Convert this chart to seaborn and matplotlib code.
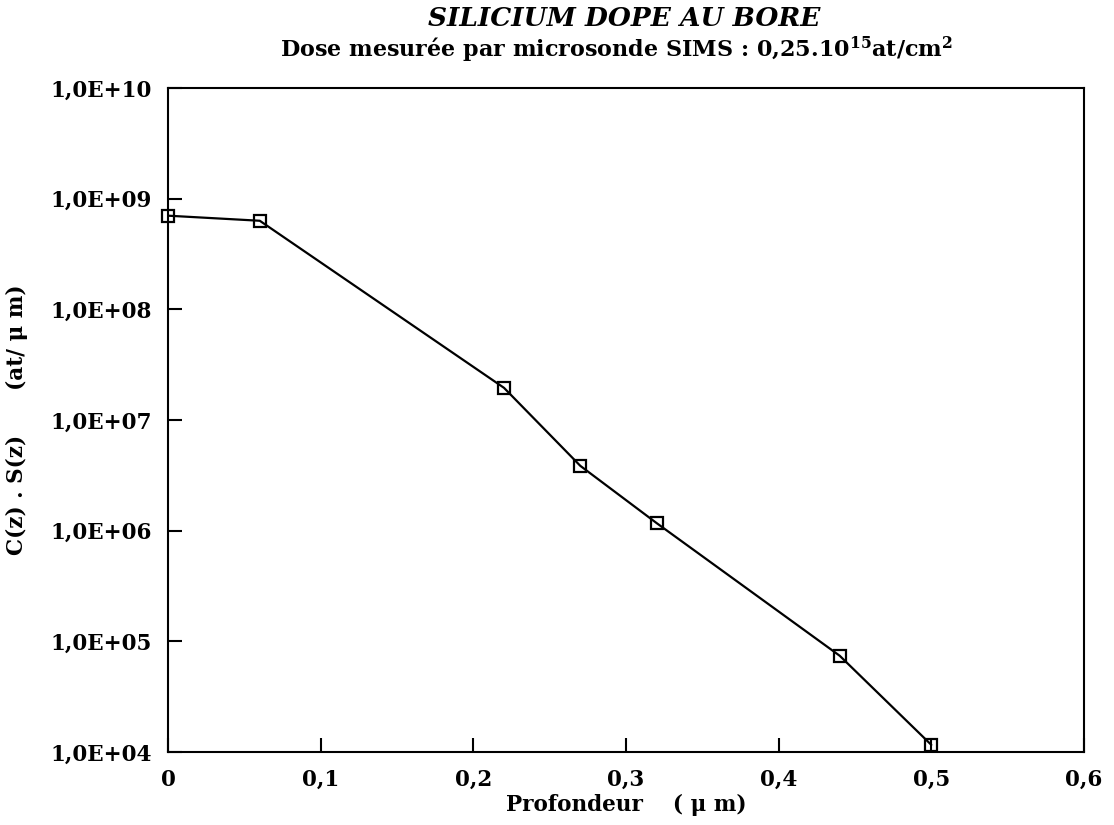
import seaborn as sns
import matplotlib.pyplot as plt
import matplotlib.ticker as mticker
import pandas as pd

# données
profondeur = [0.0, 0.06, 0.22, 0.27, 0.32, 0.44, 0.50]
concentration = [7.0e8, 6.3e8, 1.95e7, 3.85e6, 1.17e6, 7.4e4, 1.16e4]
xticks = [0, 0.1, 0.2, 0.3, 0.4, 0.5, 0.6]
xtick_labels = ["0", "0,1", "0,2", "0,3", "0,4", "0,5", "0,6"]
yticks = [1e4, 1e5, 1e6, 1e7, 1e8, 1e9, 1e10]
ytick_labels = ["1,0E+04", "1,0E+05", "1,0E+06", "1,0E+07",
                "1,0E+08", "1,0E+09", "1,0E+10"]

df = pd.DataFrame(dict(z=profondeur, c=concentration))

sns.set_theme(style="ticks")
plt.rcParams["font.family"] = ["DejaVu Serif"]
plt.rcParams["font.weight"] = "bold"
plt.rcParams["mathtext.fontset"] = "dejavuserif"
plt.rcParams["text.color"] = "black"
plt.rcParams["axes.labelcolor"] = "black"
plt.rcParams["xtick.color"] = "black"
plt.rcParams["ytick.color"] = "black"

fig = plt.figure(figsize=(11.14, 8.25), dpi=100)
ax = fig.add_axes([0.151, 0.0885, 0.822, 0.805])

sns.lineplot(data=df, x="z", y="c", ax=ax, color="black", lw=1.6,
             marker="s", markersize=9, markerfacecolor="none",
             markeredgecolor="black", markeredgewidth=1.6, clip_on=False)

ax.set_yscale("log")
ax.set_xlim(0, 0.6)
ax.set_ylim(1e4, 1e10)
ax.xaxis.set_major_locator(mticker.FixedLocator(xticks))
ax.set_xticklabels(xtick_labels)
ax.yaxis.set_major_locator(mticker.FixedLocator(yticks))
ax.yaxis.set_minor_locator(mticker.NullLocator())
ax.set_yticklabels(ytick_labels)
ax.tick_params(direction="in", length=10, width=1.5, labelsize=15.5, pad=12)
for s in ax.spines.values():
    s.set_linewidth(1.5)
    s.set_color("black")

ax.set_xlabel("Profondeur    ( μ m)", fontsize=15.5, fontweight="bold", labelpad=2)
ax.set_ylabel("C(z) . S(z)      (at/ μ m)", fontsize=15.5, fontweight="bold", labelpad=16)

fig.text(0.56, 0.977, "SILICIUM DOPE AU BORE", ha="center", va="center",
         fontsize=19, fontstyle="italic", fontweight="bold")
fig.text(0.553, 0.94, r"Dose mesurée par microsonde SIMS : 0,25.10$^{15}$at/cm$^{2}$",
         ha="center", va="center", fontsize=16, fontweight="bold")

fig.savefig("out.png", dpi=100)
